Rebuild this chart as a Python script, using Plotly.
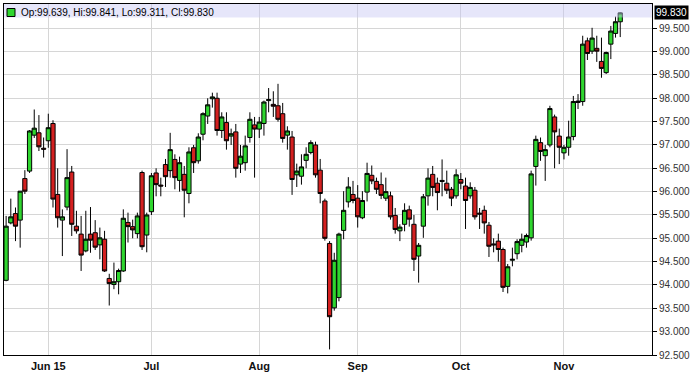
import plotly.graph_objects as go

# ---- data (daily candles, index 0 = first candle) ----
idx = list(range(132))
opens = [94.10, 95.33, 95.53, 95.39, 96.28, 96.44, 97.21, 97.26, 96.93, 97.09,
         97.46, 95.94, 95.39, 95.67, 96.42, 95.26, 95.09, 94.73, 95.09, 95.12,
         94.86, 94.98, 94.14, 94.01, 94.07, 94.30, 95.34, 95.25, 95.10, 96.41,
         95.07, 95.57, 96.40, 96.14, 96.58, 96.45, 96.69, 96.24, 96.37, 95.96,
         96.94, 96.66, 97.23, 97.62, 97.99, 98.00, 97.31, 97.48, 97.19, 97.28,
         96.59, 96.62, 97.16, 97.43, 97.34, 97.46, 97.95, 97.87, 97.84, 97.67,
         97.21, 97.17, 96.36, 96.33, 96.67, 96.84, 97.00, 96.46, 95.80, 94.89,
         93.51, 93.73, 95.17, 95.78, 95.94, 95.86, 95.44, 95.99, 96.35, 96.22,
         96.15, 95.86, 95.91, 95.49, 95.16, 95.30, 95.61, 95.30, 94.62, 95.26,
         95.91, 96.37, 96.18, 96.24, 96.18, 96.05, 95.91, 96.26, 96.12, 95.91,
         96.03, 95.54, 95.60, 95.28, 94.88, 94.94, 94.76, 93.97, 94.53, 94.67,
         94.85, 94.92, 95.01, 96.54, 97.05, 96.77, 97.00, 97.60, 97.19, 96.83,
         96.95, 97.18, 97.91, 97.93, 99.23, 99.01, 99.07, 98.79, 98.55, 99.16,
         99.39, 99.639]
highs = [95.48, 95.85, 95.66, 96.01, 96.46, 97.32, 97.76, 97.64, 97.16, 97.67,
         97.53, 96.50, 95.62, 96.91, 96.55, 95.59, 95.48, 95.59, 95.67, 95.39,
         95.23, 95.16, 94.24, 94.48, 94.35, 95.62, 95.55, 95.40, 95.55, 96.45,
         95.55, 96.40, 96.50, 96.30, 96.70, 97.26, 96.80, 96.75, 96.55, 96.95,
         97.00, 97.25, 97.70, 98.00, 98.12, 98.12, 97.70, 97.70, 97.35, 97.45,
         97.00, 97.20, 97.70, 97.60, 97.60, 97.95, 98.22, 98.15, 98.31, 97.90,
         97.40, 97.30, 96.60, 96.80, 96.95, 97.10, 97.07, 96.70, 95.85, 94.94,
         94.69, 95.12, 96.01, 96.31, 96.23, 96.14, 96.01, 96.62, 96.56, 96.30,
         96.41, 96.30, 96.00, 95.65, 95.30, 95.75, 95.70, 95.50, 94.90, 95.95,
         96.50, 96.55, 96.30, 96.69, 96.45, 96.10, 96.48, 96.40, 96.30, 96.20,
         96.10, 95.65, 95.70, 95.35, 95.00, 95.10, 94.80, 94.45, 94.80, 94.98,
         95.10, 95.10, 96.45, 97.20, 97.16, 97.00, 97.84, 97.65, 97.35, 97.00,
         97.52, 98.05, 98.09, 99.34, 99.30, 99.51, 99.34, 99.30, 99.00, 99.55,
         99.75, 99.841]
lows = [94.08, 95.30, 94.94, 94.80, 95.95, 96.40, 97.15, 96.87, 96.73, 96.94,
        95.66, 95.23, 94.62, 95.60, 95.05, 95.10, 94.30, 94.70, 94.69, 94.75,
        94.55, 94.28, 93.56, 93.91, 93.80, 94.28, 94.91, 95.00, 95.00, 94.75,
        94.70, 95.50, 95.90, 95.90, 96.10, 96.30, 96.05, 96.00, 95.45, 95.75,
        96.40, 96.60, 97.10, 97.45, 97.80, 97.20, 97.15, 96.90, 97.00, 96.30,
        96.40, 96.45, 97.05, 96.30, 97.15, 97.20, 97.70, 97.60, 97.50, 97.05,
        96.90, 95.93, 96.10, 96.15, 96.50, 96.80, 96.30, 95.75, 94.95, 92.62,
        93.45, 93.65, 94.98, 95.66, 95.75, 95.23, 95.41, 95.79, 96.16, 95.95,
        95.84, 95.80, 95.40, 95.10, 94.94, 95.15, 95.25, 94.30, 94.05, 95.01,
        95.70, 95.90, 95.60, 95.90, 95.95, 95.69, 95.85, 96.05, 95.20, 95.85,
        95.40, 95.20, 95.10, 94.60, 94.70, 94.50, 93.85, 93.82, 94.40, 94.55,
        94.70, 94.80, 94.95, 96.13, 96.66, 96.23, 96.95, 96.50, 96.59, 96.69,
        96.77, 97.10, 97.77, 97.84, 98.82, 98.95, 98.78, 98.44, 98.52, 98.84,
        99.30, 99.311]
closes = [95.26, 95.46, 95.26, 96.01, 96.01, 97.30, 97.36, 96.96, 96.91, 97.37,
          95.84, 95.44, 95.46, 96.30, 95.30, 95.16, 94.64, 94.98, 94.96, 94.81,
          95.01, 94.30, 94.03, 94.07, 94.31, 95.43, 95.25, 95.18, 95.48, 94.82,
          95.50, 96.34, 96.15, 96.12, 96.32, 96.90, 96.30, 96.62, 96.03, 96.85,
          96.62, 97.17, 97.67, 97.86, 98.03, 97.31, 97.60, 97.09, 97.24, 96.50,
          96.76, 96.98, 97.55, 97.34, 97.49, 97.92, 97.97, 97.83, 97.55, 97.14,
          97.30, 96.26, 96.44, 96.53, 96.80, 97.05, 96.36, 95.96, 95.00, 93.32,
          94.53, 95.09, 95.60, 96.10, 95.81, 95.46, 95.81, 96.39, 96.23, 96.05,
          95.92, 96.00, 95.46, 95.19, 95.24, 95.60, 95.41, 94.55, 94.85, 95.89,
          96.29, 96.09, 95.98, 96.22, 96.03, 95.86, 96.36, 96.18, 95.81, 96.09,
          95.46, 95.52, 95.33, 94.83, 94.86, 94.76, 93.95, 94.39, 94.55, 94.93,
          94.98, 95.06, 96.38, 97.12, 96.86, 96.90, 97.78, 97.28, 96.95, 96.95,
          97.17, 97.93, 97.94, 99.16, 98.96, 99.29, 99.01, 98.64, 98.98, 99.44,
          99.64, 99.830]

month_pos = [9, 31, 54, 75, 97, 119]
month_labels = ["Jun 15", "Jul", "Aug", "Sep", "Oct", "Nov"]
price_ticks = [92.5 + 0.5 * k for k in range(15)]
price_labels = ["%.3f" % v for v in price_ticks]

GREEN = "#2fd62f"
RED = "#d42020"
FONT = "Liberation Sans, Arial, sans-serif"

fig = go.Figure()
fig.add_trace(go.Candlestick(
    x=idx, open=opens, high=highs, low=lows, close=closes,
    increasing=dict(line=dict(color="black", width=1), fillcolor=GREEN),
    decreasing=dict(line=dict(color="black", width=1), fillcolor=RED),
    whiskerwidth=0, showlegend=False, hoverinfo="skip",
))

W, H = 693, 372
L, R, T, B = 4, 41, 4, 17
pw, ph = W - L - R, H - T - B


def px_x(p):
    return (p - L) / pw


def px_y(p):
    return (H - B - p) / ph


legend_text = "Op:%.3f, Hi:%.3f, Lo:%.3f, Cl:%.3f" % (opens[-1], highs[-1], lows[-1], closes[-1])

fig.update_layout(
    width=W, height=H,
    margin=dict(l=L, r=R, t=T, b=B, pad=0, autoexpand=False),
    paper_bgcolor="white", plot_bgcolor="white",
    boxgap=0.1, boxgroupgap=0,
    font=dict(family=FONT, size=10, color="#222"),
    xaxis=dict(
        range=[-0.45, 137.78], rangeslider=dict(visible=False),
        tickmode="array", tickvals=month_pos, ticktext=month_labels,
        tickfont=dict(family="Liberation Sans Narrow, Arial Narrow, Liberation Sans, Arial",
                      size=11, color="#111", weight="bold"),
        ticklabelstandoff=1, automargin=False,
        ticks="", showgrid=True, gridcolor="#d6d6d6", gridwidth=1,
        showline=True, linecolor="black", linewidth=1, mirror=True,
        zeroline=False, fixedrange=True,
    ),
    yaxis=dict(
        range=[92.5, 100.02], side="right", automargin=False,
        tickmode="array", tickvals=price_ticks, ticktext=price_labels,
        tickfont=dict(family=FONT, size=10, color="#333"),
        ticks="outside", ticklen=4, tickcolor="black",
        showgrid=True, gridcolor="#d6d6d6", gridwidth=1,
        showline=True, linecolor="black", linewidth=1, mirror=True,
        zeroline=False, fixedrange=True,
    ),
    shapes=[
        dict(type="rect", xref="paper", yref="paper", x0=0, x1=1,
             y0=px_y(17.5), y1=1, fillcolor="rgba(200,200,245,0.45)",
             line=dict(width=0), layer="above"),
        dict(type="rect", xref="paper", yref="paper", x0=px_x(7), x1=px_x(15),
             y0=px_y(16.5), y1=px_y(8.5), fillcolor=GREEN,
             line=dict(color="black", width=1), layer="above"),
    ],
    annotations=[
        dict(text=legend_text, xref="paper", yref="paper", x=px_x(19), y=px_y(12.5),
             xanchor="left", yanchor="middle", showarrow=False,
             font=dict(family=FONT, size=10, color="black")),
        dict(text="%.3f" % closes[-1], xref="paper", yref="y", x=1, y=closes[-1],
             xanchor="left", yanchor="middle", xshift=2, showarrow=False,
             bgcolor="black", borderpad=1,
             font=dict(family=FONT, size=10, color="white")),
    ],
)

fig.write_html("out.html")
